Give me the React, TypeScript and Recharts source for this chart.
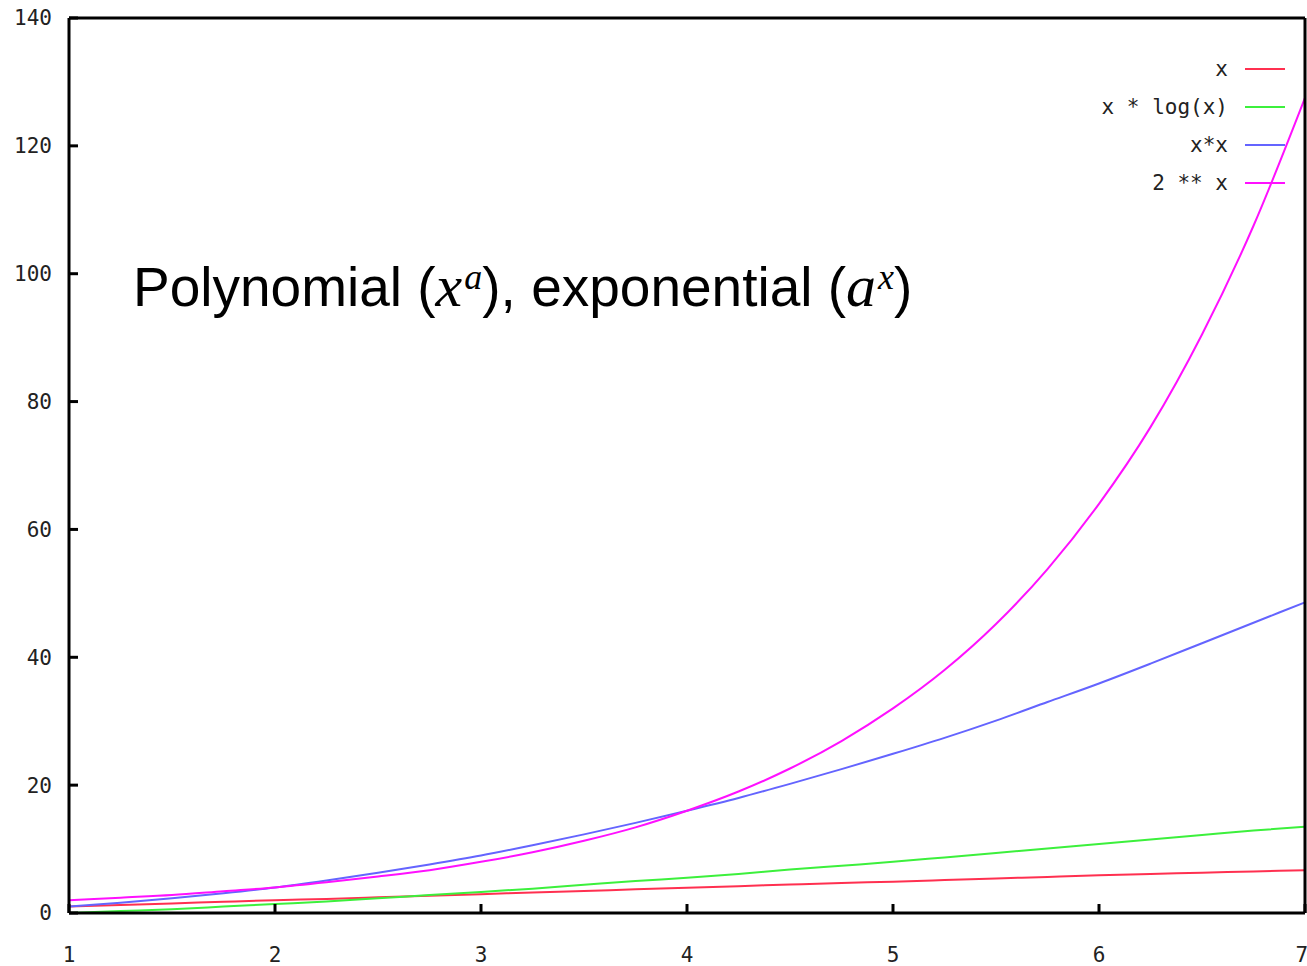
import React from "react";
import { LineChart, Line, XAxis, YAxis, Legend } from "recharts";

// x positions sampled along the axis
const xValues = [1, 1.25, 1.5, 1.75, 2, 2.25, 2.5, 2.75, 3, 3.25, 3.5, 3.75, 4, 4.25, 4.5, 4.75, 5, 5.25, 5.5, 5.75, 6, 6.25, 6.5, 6.75, 7];

// values
const linear = [1, 1.25, 1.5, 1.75, 2, 2.2, 2.45, 2.7, 2.95, 3.2, 3.45, 3.7, 3.95, 4.2, 4.45, 4.7, 4.9, 5.15, 5.4, 5.65, 5.9, 6.1, 6.3, 6.5, 6.7];
const xLogX = [0, 0.3, 0.6, 1, 1.4, 1.8, 2.3, 2.8, 3.3, 3.8, 4.4, 5, 5.5, 6.1, 6.8, 7.4, 8, 8.7, 9.4, 10.1, 10.8, 11.5, 12.2, 12.9, 13.5];
const square = [1, 1.6, 2.3, 3.1, 4, 5.1, 6.3, 7.6, 9, 10.6, 12.3, 14.1, 16, 18, 20.2, 22.5, 24.9, 27.4, 30.1, 33, 35.9, 39, 42.2, 45.4, 48.6];
const power2 = [2, 2.4, 2.8, 3.4, 4, 4.8, 5.7, 6.7, 8, 9.5, 11.3, 13.4, 16, 19, 22.6, 26.9, 32, 38, 45.2, 53.8, 64, 76, 90.5, 107.5, 127.5];

const xTicks = [1, 2, 3, 4, 5, 6, 7];
const yTicks = [0, 20, 40, 60, 80, 100, 120, 140];

const seriesNames = ["x", "x * log(x)", "x*x", "2 ** x"];
const seriesColors = ["#ff3050", "#3cf03c", "#6464ff", "#ff10ff"];

const data = xValues.map((x, i) => ({ x, a: linear[i], b: xLogX[i], c: square[i], d: power2[i] }));
const keys = ["a", "b", "c", "d"];

const tickFont = { fontFamily: "'DejaVu Sans Mono', monospace", fontSize: 21, fill: "#222" };
const axisStroke = { stroke: "#000", strokeWidth: 3 };

function KeyBox() {
  return (
    <div style={{ fontFamily: "'DejaVu Sans Mono', monospace", fontSize: 21, color: "#222" }}>
      {seriesNames.map((name, i) => (
        <div key={name} style={{ display: "flex", alignItems: "center", justifyContent: "flex-end", height: 38 }}>
          <span style={{ whiteSpace: "pre" }}>{name}</span>
          <span style={{ display: "inline-block", width: 40, height: 2, background: seriesColors[i], marginLeft: 17 }} />
        </div>
      ))}
    </div>
  );
}

export default function App() {
  return (
    <div style={{ position: "absolute", left: 0, top: 0, width: 1307, height: 966, background: "#fff" }}>
      <LineChart width={1307} height={966} data={data} margin={{ top: 17, right: 1, bottom: 0, left: 0 }}>
        <XAxis
          dataKey="x"
          type="number"
          domain={[1, 7]}
          ticks={xTicks}
          height={53}
          tickSize={-9}
          tickMargin={43}
          tick={tickFont}
          axisLine={axisStroke}
          tickLine={axisStroke}
        />
        <XAxis
          xAxisId="top"
          orientation="top"
          dataKey="x"
          type="number"
          domain={[1, 7]}
          ticks={xTicks}
          height={1}
          tickSize={-9}
          tick={false}
          axisLine={axisStroke}
          tickLine={axisStroke}
        />
        <YAxis
          type="number"
          domain={[0, 140]}
          ticks={yTicks}
          width={69}
          tickSize={-9}
          tickMargin={26}
          tick={tickFont}
          axisLine={axisStroke}
          tickLine={axisStroke}
        />
        <YAxis
          yAxisId="right"
          orientation="right"
          type="number"
          domain={[0, 140]}
          ticks={yTicks}
          width={1}
          tickSize={-9}
          tick={false}
          axisLine={axisStroke}
          tickLine={axisStroke}
        />
        {keys.map((k, i) => (
          <Line
            key={k}
            dataKey={k}
            name={seriesNames[i]}
            type="monotone"
            stroke={seriesColors[i]}
            strokeWidth={2}
            dot={false}
            activeDot={false}
            isAnimationActive={false}
          />
        ))}
        <Legend layout="horizontal" align="center" verticalAlign="middle" content={KeyBox} wrapperStyle={{ top: 50, right: 22, left: "auto", width: "auto" }} />
      </LineChart>
      <div
        style={{
          position: "absolute",
          left: 133,
          top: 259,
          fontFamily: "'Liberation Sans', Arial, sans-serif",
          fontSize: 55,
          lineHeight: "55px",
          whiteSpace: "nowrap",
          color: "#000",
        }}
      >
        Polynomial (
        <span style={{ fontFamily: "'Liberation Serif', serif", fontStyle: "italic", fontSize: 60 }}>
          x<span style={{ fontSize: 36, position: "relative", top: -17, marginLeft: 2 }}>a</span>
        </span>
        ), exponential (
        <span style={{ fontFamily: "'Liberation Serif', serif", fontStyle: "italic", fontSize: 60 }}>
          a<span style={{ fontSize: 36, position: "relative", top: -17, marginLeft: 2 }}>x</span>
        </span>
        )
      </div>
    </div>
  );
}
